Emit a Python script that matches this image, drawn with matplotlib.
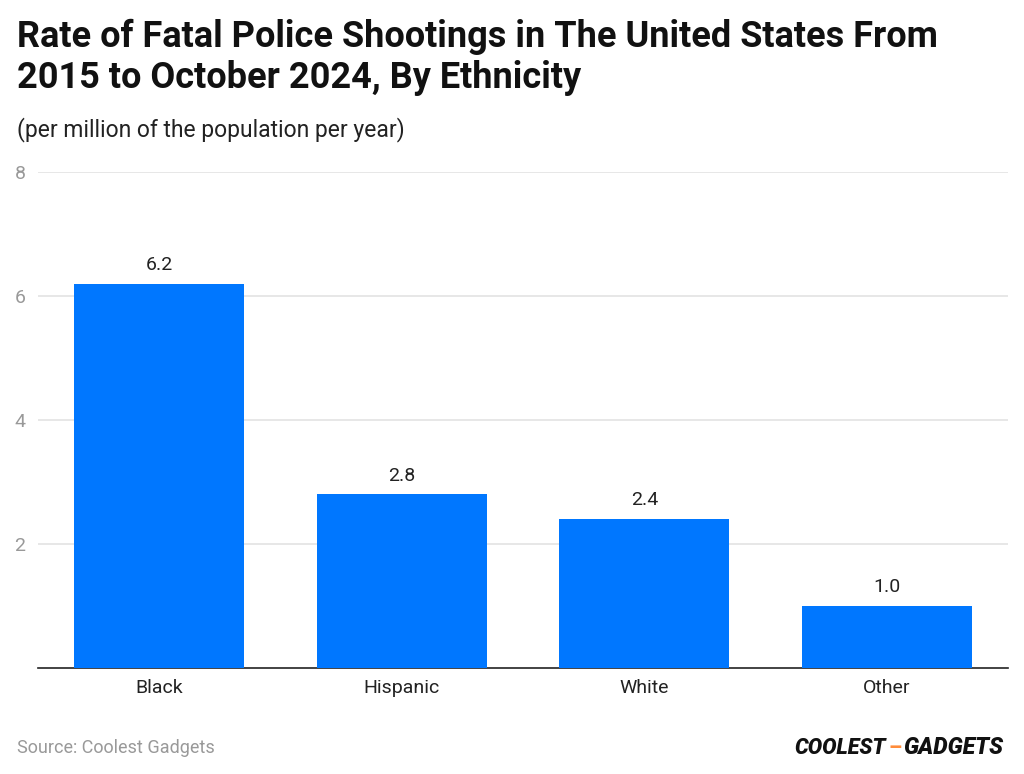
import matplotlib.pyplot as plt

categories = ["Black", "Hispanic", "White", "Other"]
values = [6.2, 2.8, 2.4, 1.0]
value_labels = ["6.2", "2.8", "2.4", "1.0"]
y_ticks = [2, 4, 6, 8]

plt.rcParams['font.family'] = ['Roboto', 'DejaVu Sans']

fig = plt.figure(figsize=(10.24, 7.74), dpi=100)
ax = fig.add_axes([38 / 1024, 1 - 668 / 774, (1008 - 38) / 1024, (668 - 172) / 774])

x = range(len(categories))
bars = ax.bar(x, values, width=0.7, color="#0077FF", zorder=3)
for b, lab in zip(bars, value_labels):
    ax.annotate(lab, (b.get_x() + b.get_width() / 2, b.get_height()),
                xytext=(0, 7), textcoords="offset points",
                ha="center", va="bottom", fontsize=14, color="#222222")

ax.set_xlim(-0.5, len(categories) - 0.5)
ax.set_ylim(0, 8)
ax.set_yticks(y_ticks)
ax.set_xticks(list(x))
ax.set_xticklabels(categories, fontsize=14, color="#222222")
ax.tick_params(axis="y", length=0, labelsize=14, labelcolor="#999999", pad=9)
ax.tick_params(axis="x", length=0, pad=8)
ax.grid(axis="y", color="#e3e3e3", linewidth=1.2, zorder=0)
for s in ["top", "right", "left"]:
    ax.spines[s].set_visible(False)
ax.spines["bottom"].set_color("#222222")
ax.spines["bottom"].set_linewidth(1.2)

fig.text(17 / 1024, 1 - 19 / 774,
         "Rate of Fatal Police Shootings in The United States From\n2015 to October 2024, By Ethnicity",
         fontsize=26, fontweight="bold", va="top", ha="left", color="#111111", linespacing=1.18)
fig.text(17 / 1024, 1 - 130 / 774, "(per million of the population per year)",
         fontsize=16.5, va="center", ha="left", color="#222222")
fig.text(17 / 1024, 1 - 748 / 774, "Source: Coolest Gadgets",
         fontsize=13, va="center", ha="left", color="#999999")

# logo
fig.text(886 / 1024, 1 - 748 / 774, "COOLEST", fontsize=15.5, fontweight="heavy",
         style="italic", ha="right", va="center", color="#111111")
fig.text(895 / 1024, 1 - 748 / 774, "–", fontsize=15, fontweight="heavy",
         ha="center", va="center", color="#FF8C3A")
fig.text(903 / 1024, 1 - 748 / 774, "GADGETS", fontsize=16.5, fontweight="heavy",
         style="italic", ha="left", va="center", color="#111111")

fig.savefig("out.png", dpi=100)
